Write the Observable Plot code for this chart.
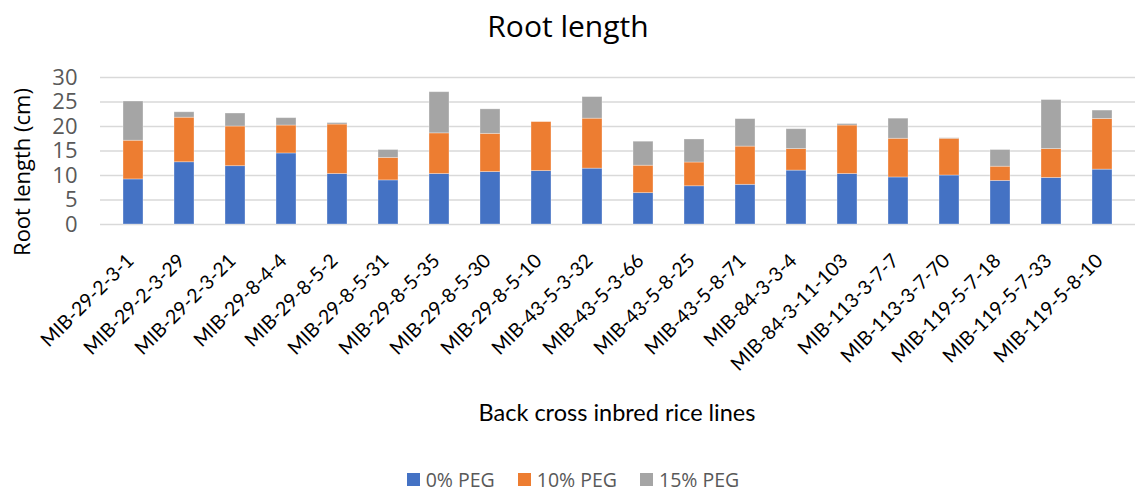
<!DOCTYPE html>
<html>
<head>
<meta charset="utf-8">
<script src="https://cdn.jsdelivr.net/npm/d3@7"></script>
<script src="https://cdn.jsdelivr.net/npm/@observablehq/plot@0.6"></script>
<style>
  html, body { margin: 0; padding: 0; background: #fff; }
  #wrap { width: 1136px; height: 493px; overflow: hidden; }
  #title { height: 52px; line-height: 52px; text-align: center; font-family: "Open Sans", sans-serif; font-size: 30px; color: #000; }
  #legend { height: 48px; box-sizing: border-box; padding-top: 20px; padding-left: 10px; display: flex; justify-content: center; align-items: center; font-family: "Open Sans", sans-serif; font-size: 19.5px; color: #595959; }
  .item { display: flex; align-items: center; margin: 0 11.5px; }
  .sw { width: 13px; height: 13px; margin-right: 6px; }
  #chart svg { display: block; }
</style>
</head>
<body>
<div id="wrap">
  <div id="title">Root length</div>
  <div id="chart"></div>
  <div id="legend"></div>
</div>
<script>
const categories = ["MIB-29-2-3-1","MIB-29-2-3-29","MIB-29-2-3-21","MIB-29-8-4-4","MIB-29-8-5-2","MIB-29-8-5-31","MIB-29-8-5-35","MIB-29-8-5-30","MIB-29-8-5-10","MIB-43-5-3-32","MIB-43-5-3-66","MIB-43-5-8-25","MIB-43-5-8-71","MIB-84-3-3-4","MIB-84-3-11-103","MIB-113-3-7-7","MIB-113-3-7-70","MIB-119-5-7-18","MIB-119-5-7-33","MIB-119-5-8-10"];
const seriesNames = ["0% PEG", "10% PEG", "15% PEG"];
const seriesColors = ["#4472C4", "#ED7D31", "#A5A5A5"];
const peg0  = [9.2, 12.7, 11.9, 14.5, 10.3, 9.0, 10.3, 10.7, 10.9, 11.4, 6.4, 7.8, 8.1, 11.0, 10.3, 9.6, 10.0, 8.9, 9.5, 11.2];
const peg10 = [7.9, 9.1, 8.1, 5.7, 10.1, 4.6, 8.3, 7.8, 10.0, 10.2, 5.6, 4.85, 7.8, 4.4, 9.9, 7.9, 7.5, 2.9, 5.9, 10.35];
const peg15 = [8.0, 1.1, 2.65, 1.5, 0.3, 1.6, 8.4, 5.0, 0.0, 4.4, 4.9, 4.7, 5.6, 4.05, 0.3, 4.1, 0.1, 3.4, 10.0, 1.7];
const yTicks = [0, 5, 10, 15, 20, 25, 30];
const yTitle = "Root length (cm)";
const xTitle = "Back cross inbred rice lines";

const seriesValues = [peg0, peg10, peg15];
const rows = [];
categories.forEach((c, i) => {
  seriesNames.forEach((s, j) => rows.push({line: c, series: s, value: seriesValues[j][i]}));
});

const chart = Plot.plot({
  width: 1136,
  height: 393,
  marginTop: 25,
  marginBottom: 221,
  marginLeft: 100,
  marginRight: 1,
  style: {fontFamily: "Lato, sans-serif", background: "#fff"},
  x: {domain: categories, paddingInner: 0.6, paddingOuter: 0.31, label: null},
  y: {domain: [0, 30], label: null},
  color: {domain: seriesNames, range: seriesColors},
  marks: [
    Plot.gridY(yTicks, {stroke: "#d9d9d9", strokeOpacity: 1, strokeWidth: 1.3}),
    Plot.barY(rows, {x: "line", y: "value", fill: "series", stroke: "#fff", strokeOpacity: 0.4, strokeWidth: 0.8}),
    Plot.axisY({ticks: yTicks, tickSize: 0, tickPadding: 23, fontSize: 22, color: "#595959", fontFamily: "Open Sans, sans-serif", label: null}),
    Plot.axisX({tickSize: 0, tickRotate: -45, tickPadding: 33, dx: -3, fontSize: 19.5, color: "#000", textAnchor: "end", lineAnchor: "middle", label: null}),
    Plot.text([yTitle], {frameAnchor: "left", dx: -78, dy: 21, rotate: -90, text: d => d, fontSize: 22, fontFamily: "Open Sans, sans-serif", fill: "#000", textAnchor: "middle", lineAnchor: "middle"}),
    Plot.text([xTitle], {frameAnchor: "bottom", dy: 196, dx: -1, text: d => d, fontSize: 23.5, fill: "#000", textAnchor: "middle", lineAnchor: "bottom"})
  ]
});
document.getElementById("chart").appendChild(chart);

const legend = document.getElementById("legend");
seriesNames.forEach((s, j) => {
  const item = document.createElement("div");
  item.className = "item";
  const sw = document.createElement("div");
  sw.className = "sw";
  sw.style.background = seriesColors[j];
  const t = document.createElement("span");
  t.textContent = s;
  item.appendChild(sw);
  item.appendChild(t);
  legend.appendChild(item);
});
</script>
</body>
</html>
